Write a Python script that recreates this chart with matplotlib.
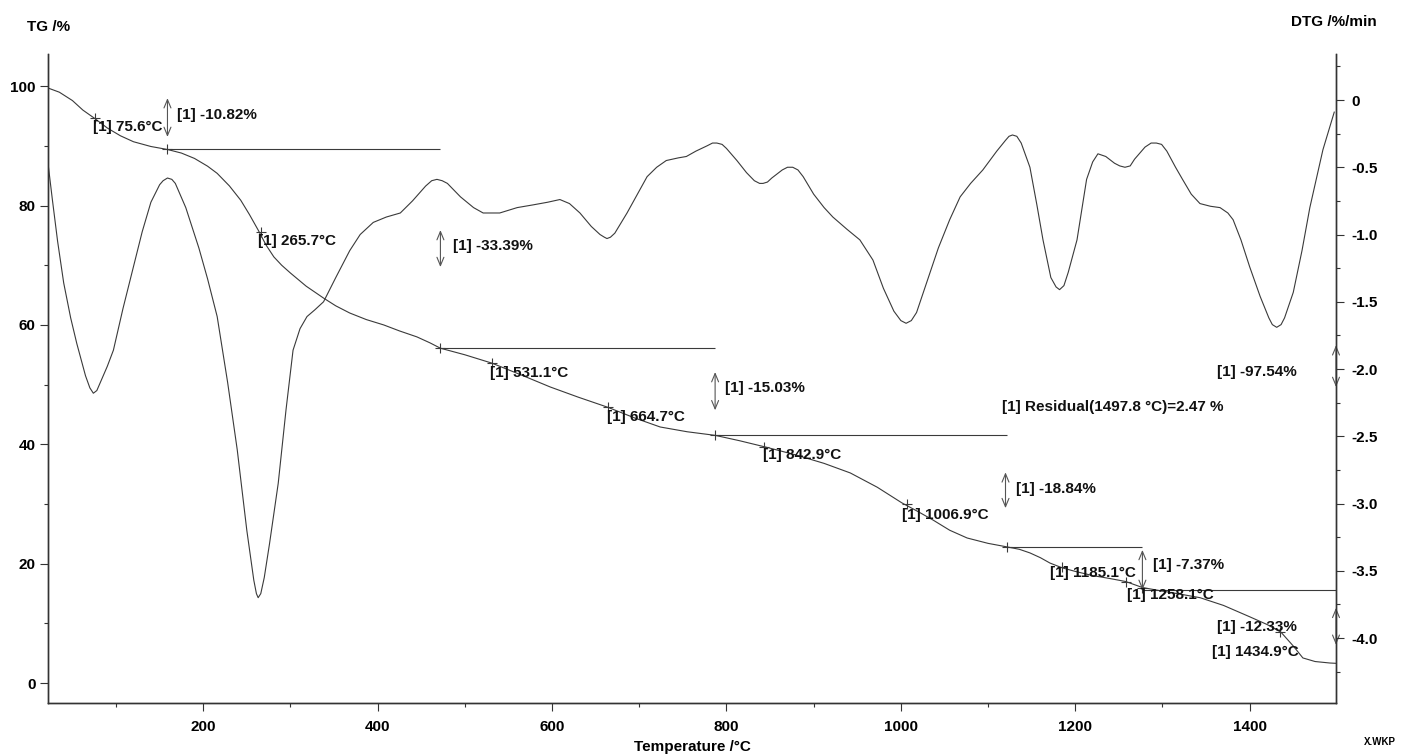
import matplotlib
matplotlib.use('Agg')
import matplotlib.pyplot as plt
from matplotlib.ticker import MultipleLocator

plt.rcParams['font.family'] = ['Liberation Sans', 'DejaVu Sans']
plt.rcParams['font.weight'] = 'bold'

# TG curve (temperature /°C, mass /%)
tg_temp = [22, 35, 50, 62, 75.6, 90, 105, 120, 140, 159, 175, 190, 205, 216, 230, 243, 253, 263,
           272, 281, 290, 300, 318, 338, 352, 368, 387, 407, 425, 445, 460, 472, 500, 531, 565,
           598, 630, 664, 695, 724, 755, 787, 815, 846, 880, 912, 942, 973, 1001, 1020, 1037,
           1056, 1076, 1100, 1122, 1136, 1148, 1160, 1171, 1185, 1200, 1220, 1240, 1258, 1277,
           1300, 1320, 1343, 1370, 1400, 1420, 1436, 1450, 1461, 1475, 1492, 1499]
tg_val = [99.7, 99.0, 97.6, 96.0, 94.6, 93.0, 91.7, 90.7, 89.9, 89.4, 88.8, 87.9, 86.6, 85.4, 83.3,
          80.9, 78.5, 75.9, 73.4, 71.4, 70.0, 68.7, 66.5, 64.5, 63.2, 62.0, 60.9, 60.0, 59.0, 58.0,
          57.0, 56.1, 55.0, 53.6, 51.6, 49.6, 47.9, 46.2, 44.4, 42.9, 42.1, 41.5, 40.6, 39.5, 38.2,
          36.8, 35.2, 32.8, 30.2, 28.7, 27.3, 25.6, 24.3, 23.4, 22.8, 22.4, 21.8, 21.0, 20.1, 19.3,
          18.7, 18.0, 17.5, 17.0, 16.0, 15.4, 14.9, 14.3, 13.0, 11.1, 9.8, 8.5, 6.2, 4.2, 3.6,
          3.35, 3.3]

# DTG curve (%/min)
dtg_temp = [22, 27, 33, 40, 48, 55, 65, 70, 74, 78, 82, 90, 97, 108, 120, 130, 140, 150, 154, 159,
            164, 168, 180, 195, 205, 216, 228, 239, 250, 258, 261, 263, 266, 270, 276, 286, 295,
            303, 311, 319, 328, 338, 352, 368, 380, 395, 410, 426, 440, 455, 462, 468, 474, 480,
            495, 510, 521, 540, 560, 578, 595, 609, 620, 632, 645, 655, 660, 663, 667, 672, 686,
            698, 709, 720, 731, 745, 754, 765, 778, 784, 789, 795, 800, 812, 823, 832, 838, 842,
            847, 852, 864, 870, 876, 882, 888, 900, 912, 922, 938, 953, 968, 980, 992, 1000, 1006,
            1012, 1018, 1030, 1043, 1056, 1068, 1080, 1094, 1110, 1120, 1124, 1128, 1133, 1138,
            1148, 1156, 1163, 1172, 1178, 1182, 1187, 1192, 1202, 1213, 1220, 1226, 1235, 1245,
            1251, 1257, 1263, 1268, 1280, 1287, 1293, 1299, 1305, 1315, 1323, 1333, 1343, 1355,
            1366, 1375, 1381, 1390, 1400, 1412, 1422, 1426, 1431, 1436, 1440, 1450, 1460, 1469,
            1477, 1484, 1491, 1497]
dtg_val = [-0.47, -0.74, -1.05, -1.36, -1.62, -1.81, -2.05, -2.14, -2.18, -2.16, -2.10, -1.98,
           -1.86, -1.55, -1.24, -0.98, -0.76, -0.63, -0.60, -0.58, -0.59, -0.62, -0.80, -1.10,
           -1.33, -1.61, -2.10, -2.60, -3.20, -3.57, -3.67, -3.70, -3.67, -3.55, -3.30, -2.85,
           -2.30, -1.86, -1.70, -1.61, -1.56, -1.50, -1.32, -1.12, -1.00, -0.91, -0.87, -0.84,
           -0.75, -0.64, -0.60, -0.59, -0.60, -0.62, -0.72, -0.80, -0.84, -0.84, -0.80, -0.78,
           -0.76, -0.74, -0.77, -0.84, -0.94, -1.00, -1.02, -1.03, -1.02, -0.99, -0.84, -0.70,
           -0.57, -0.50, -0.45, -0.43, -0.42, -0.38, -0.34, -0.32, -0.32, -0.33, -0.36, -0.45,
           -0.54, -0.60, -0.62, -0.62, -0.61, -0.58, -0.52, -0.50, -0.50, -0.52, -0.57, -0.70,
           -0.80, -0.87, -0.96, -1.04, -1.19, -1.40, -1.57, -1.64, -1.66, -1.64, -1.58, -1.35,
           -1.10, -0.89, -0.72, -0.62, -0.52, -0.38, -0.30, -0.27, -0.26, -0.27, -0.32, -0.50,
           -0.78, -1.04, -1.32, -1.39, -1.41, -1.38, -1.28, -1.04, -0.59, -0.46, -0.40, -0.42,
           -0.47, -0.49, -0.50, -0.49, -0.44, -0.35, -0.32, -0.32, -0.33, -0.38, -0.50, -0.59,
           -0.70, -0.77, -0.79, -0.80, -0.84, -0.89, -1.04, -1.24, -1.46, -1.62, -1.67, -1.69,
           -1.67, -1.62, -1.43, -1.12, -0.80, -0.57, -0.37, -0.22, -0.09]

# marked points on TG
mark_temp = [75.6, 159, 265.7, 472, 531.1, 664.7, 787, 842.9, 1006.9, 1122, 1185.1, 1258.1, 1277, 1434.9]
mark_tg = [94.6, 89.4, 75.6, 56.1, 53.6, 46.2, 41.5, 39.5, 30.0, 22.8, 19.4, 17.0, 16.0, 8.6]

# step baselines: start, end, level
step_start = [159, 472, 787, 1122, 1277]
step_end = [472, 787, 1122, 1277, 1499]
step_level = [89.4, 56.1, 41.5, 22.8, 15.6]

# double arrows: x, top, bottom
arr_x = [159, 472, 787, 1120, 1277, 1499, 1499]
arr_top = [98.0, 75.9, 52.1, 35.3, 22.3, 12.6, 56.6]
arr_bot = [91.5, 69.7, 45.7, 29.3, 15.6, 6.4, 49.6]

# texts: x, y, string, ha
txt_x = [170, 486, 798, 1132, 1289, 1454, 1454, 1116,
         74, 263, 529, 663, 842, 1001, 1171, 1259, 1357]
txt_y = [95.1, 73.3, 49.4, 32.5, 19.7, 9.4, 52.1, 46.2,
         93.1, 74.1, 51.9, 44.5, 38.2, 28.1, 18.4, 14.7, 5.2]
txt_s = ['[1] -10.82%', '[1] -33.39%', '[1] -15.03%', '[1] -18.84%', '[1] -7.37%',
         '[1] -12.33%', '[1] -97.54%', '[1] Residual(1497.8 °C)=2.47 %',
         '[1] 75.6°C', '[1] 265.7°C', '[1] 531.1°C', '[1] 664.7°C', '[1] 842.9°C',
         '[1] 1006.9°C', '[1] 1185.1°C', '[1] 1258.1°C', '[1] 1434.9°C']
txt_ha = ['left'] * 5 + ['right', 'right'] + ['left'] * 10

col = '#3a3a3a'

fig = plt.figure(figsize=(14.02, 7.55), dpi=100)
ax = fig.add_axes([48 / 1402, 52 / 755, (1336 - 48) / 1402, (703 - 54) / 755])
ax.set_xlim(22, 1499)
ax.set_ylim(-3.35, 105.4)

ax.plot(tg_temp, tg_val, color=col, lw=0.8, solid_joinstyle='round')
ax.plot(mark_temp, mark_tg, ls='none', marker='+', ms=7, mew=0.8, color=col)
ax.hlines(step_level, step_start, step_end, color=col, lw=0.8)

for x, t, b in zip(arr_x, arr_top, arr_bot):
    ax.annotate('', xy=(x, t), xytext=(x, b),
                arrowprops=dict(arrowstyle='<->,head_length=0.6,head_width=0.25',
                                color='#555555', lw=0.8, shrinkA=0, shrinkB=0))

for x, y, s, ha in zip(txt_x, txt_y, txt_s, txt_ha):
    ax.text(x, y, s, ha=ha, va='center', fontsize=11, fontweight='bold', color='#111111')

ax2 = ax.twinx()
ax2.set_ylim(-4.483, 0.342)
ax2.plot(dtg_temp, dtg_val, color=col, lw=0.8, solid_joinstyle='round')

for a in (ax, ax2):
    a.spines['top'].set_visible(False)
    for sp in a.spines.values():
        sp.set_color('#333333')
        sp.set_linewidth(1.0)

ax.xaxis.set_major_locator(MultipleLocator(200))
ax.xaxis.set_minor_locator(MultipleLocator(100))
ax.yaxis.set_major_locator(MultipleLocator(20))
ax.yaxis.set_minor_locator(MultipleLocator(10))
ax2.yaxis.set_minor_locator(MultipleLocator(0.25))
ax2.set_yticks([0, -0.5, -1.0, -1.5, -2.0, -2.5, -3.0, -3.5, -4.0])
ax2.set_yticklabels(['0', '-0.5', '-1.0', '-1.5', '-2.0', '-2.5', '-3.0', '-3.5', '-4.0'])

for a in (ax, ax2):
    a.tick_params(which='major', length=6, width=0.8, color='#333333', labelsize=11, pad=3)
    a.tick_params(which='minor', length=3, width=0.8, color='#333333')
    for lab in a.get_xticklabels() + a.get_yticklabels():
        lab.set_fontweight('bold')
ax.tick_params(axis='x', pad=6)
ax2.tick_params(axis='y', pad=5)

fig.text(27 / 1402, 1 - 27 / 755, 'TG /%', fontsize=11, fontweight='bold', va='center')
fig.text(1377 / 1402, 1 - 22 / 755, 'DTG /%/min', fontsize=11, fontweight='bold', va='center', ha='right')
fig.text(692 / 1402, 1 - 747 / 755, 'Temperature /°C', fontsize=11, fontweight='bold', va='center', ha='center')
fig.text(1380 / 1402, 1 - 742 / 755, 'X.WKP', fontsize=7, fontweight='bold', va='center', ha='center')

fig.savefig('out.png', dpi=100, facecolor='white')
